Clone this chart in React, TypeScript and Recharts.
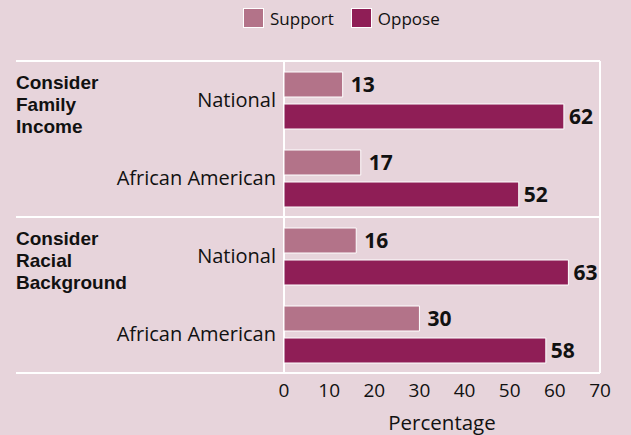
import { BarChart, Bar, XAxis, YAxis, Legend, LabelList, usePlotArea } from 'recharts';

const groupLabels = [
  ['Consider', 'Family', 'Income'],
  ['Consider', 'Racial', 'Background'],
];
const subgroups = ['National', 'African American', 'National', 'African American'];
const groupIndex = [0, 0, 1, 1];
const support = [13, 17, 16, 30];
const oppose = [62, 52, 63, 58];
const xTicks = [0, 10, 20, 30, 40, 50, 60, 70];

const BG = '#e7d4db';
const SUPPORT = '#b37389';
const OPPOSE = '#8f1e56';
const FONT = '"Open Sans", sans-serif';
const GROUP_FONT = '"Liberation Sans", Arial, sans-serif';

const data = subgroups.map((s, i) => ({
  key: `${groupIndex[i]}|${s}`,
  sub: s,
  group: groupIndex[i],
  support: support[i],
  oppose: oppose[i],
}));

function CategoryTick(props: any) {
  const { x, y, index } = props;
  const row = data[index];
  if (!row) return null;
  const firstOfGroup = index === 0 || data[index - 1].group !== row.group;
  return (
    <g>
      <text x={x} y={y} dy="0.35em" textAnchor="end" fontSize={20} fill="#111" fontFamily={FONT}>
        {row.sub}
      </text>
      {firstOfGroup &&
        groupLabels[row.group].map((line, i) => (
          <text key={i} x={16} y={y - 18 + i * 22} dy="0.35em" textAnchor="start" fontSize={19}
            fontWeight={700} fill="#111" fontFamily={GROUP_FONT}>
            {line}
          </text>
        ))}
    </g>
  );
}

// white frame: group dividers run out to the left edge, plus the two verticals
function Frame() {
  const area = usePlotArea();
  if (!area) return null;
  const { x, y, width, height } = area;
  const ys = [y, y + height / 2, y + height];
  return (
    <g>
      {ys.map((v, i) => (
        <line key={i} x1={16} x2={x + width} y1={v} y2={v} stroke="#fff" strokeWidth={2} />
      ))}
      <line x1={x} x2={x} y1={y} y2={y + height} stroke="#fff" strokeWidth={2} />
      <line x1={x + width} x2={x + width} y1={y} y2={y + height} stroke="#fff" strokeWidth={2} />
    </g>
  );
}

function LegendContent() {
  const items = [
    { name: 'Support', color: SUPPORT },
    { name: 'Oppose', color: OPPOSE },
  ];
  return (
    <div style={{ height: 36, display: 'flex', alignItems: 'center', paddingLeft: 243, fontFamily: FONT, fontSize: 17, color: '#111' }}>
      {items.map((it) => (
        <div key={it.name} style={{ display: 'flex', alignItems: 'center', marginRight: 17 }}>
          <span style={{ width: 21, height: 20, background: it.color, border: '1.5px solid #fff', marginRight: 6, boxSizing: 'border-box', display: 'inline-block' }} />
          <span>{it.name}</span>
        </div>
      ))}
    </div>
  );
}

export default function App() {
  return (
    <div style={{ position: 'absolute', left: 0, top: 0, width: 631, height: 435, background: BG, fontFamily: FONT }}>
      <BarChart width={631} height={435} data={data} layout="vertical"
        margin={{ top: 25, right: 31, bottom: 0, left: 0 }} barSize={25} barGap={7}>
        <Legend verticalAlign="top" content={<LegendContent />} wrapperStyle={{ top: 0, left: 0, width: 631 }} />
        <Frame />
        <XAxis type="number" domain={[0, 70]} ticks={xTicks} height={62} axisLine={false} tickLine={false}
          tickSize={0} tickMargin={11} tick={{ fontSize: 19, fill: '#111', fontFamily: FONT }}
          label={{ value: 'Percentage', position: 'insideBottom', offset: 5, fill: '#111', fontSize: 20.5, fontFamily: FONT }} />
        <YAxis type="category" dataKey="key" width={284} axisLine={false} tickLine={false} interval={0}
          tick={(p: any) => <CategoryTick {...p} />} />
        <Bar dataKey="support" name="Support" fill={SUPPORT} stroke="#fff" strokeWidth={1} isAnimationActive={false}>
          <LabelList dataKey="support" position="right" offset={8} fill="#111" fontSize={21} fontWeight={700} fontFamily={FONT} />
        </Bar>
        <Bar dataKey="oppose" name="Oppose" fill={OPPOSE} stroke="#fff" strokeWidth={1} isAnimationActive={false}>
          <LabelList dataKey="oppose" position="right" offset={5} fill="#111" fontSize={21} fontWeight={700} fontFamily={FONT} />
        </Bar>
      </BarChart>
    </div>
  );
}
